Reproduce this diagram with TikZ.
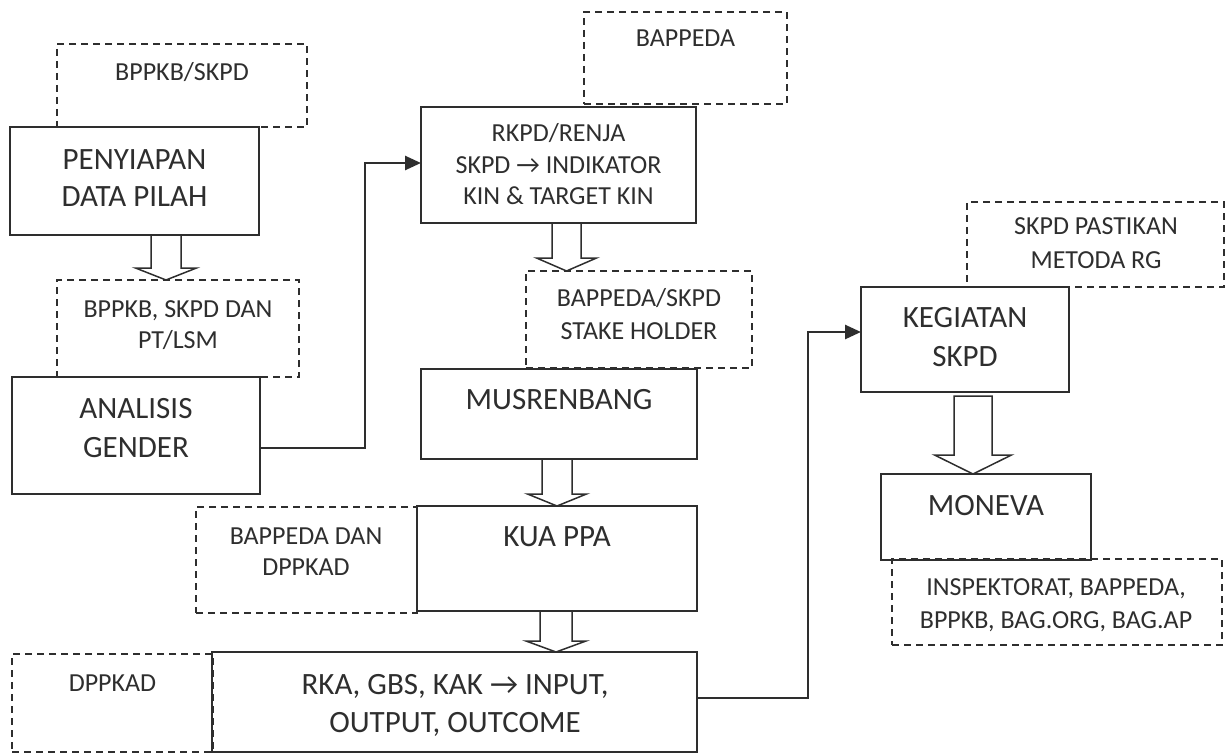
\documentclass[tikz,border=0pt]{standalone}
\usepackage{fontspec}
\setmainfont{Carlito}
\usetikzlibrary{arrows.meta,calc}
\definecolor{ink}{HTML}{2E2E2E}
\tikzset{
  box/.style={draw=ink, line width=1.6pt, inner sep=0pt, outer sep=0pt, anchor=north west},
  dbox/.style={draw=ink, line width=1.4pt, dash pattern=on 7pt off 5pt, inner sep=0pt, outer sep=0pt, anchor=north west},
  big/.style={text=ink, inner sep=0pt, align=center, anchor=base, font=\fontsize{31}{38}\selectfont},
  small/.style={text=ink, inner sep=0pt, align=center, anchor=base, font=\fontsize{26}{32}\selectfont},
  conn/.style={draw=ink, line width=2.6pt, -{Triangle[length=16pt,width=14pt]}},
  harr/.style={draw=ink, line width=1.5pt, line join=miter}
}
\newcommand\harrow[7]{%
  \draw[harr] let \p1=($(#1.south)+(#3,0)$), \p2=(#2.north) in
   (\x1-#4,\y1-#7) -- (\x1-#4,\y2+#6) -- (\x1-#5,\y2+#6) -- (\x1,\y2) --
   (\x1+#5,\y2+#6) -- (\x1+#4,\y2+#6) -- (\x1+#4,\y1-#7) -- cycle;}
\begin{document}
\begin{tikzpicture}[x=1pt,y=-1pt]
\useasboundingbox (0,0) rectangle (1226,754);
% dashed boxes
\node[dbox, minimum width=250, minimum height=83] (d1) at (57,44) {};
\node[dbox, minimum width=242, minimum height=97] (d2) at (57,280) {};
\node[dbox, minimum width=203, minimum height=92] (d3) at (584,12) {};
\node[dbox, minimum width=226, minimum height=97] (d4) at (526,271) {};
\node[dbox, minimum width=221, minimum height=106] (d5) at (196,507) {};
\node[dbox, minimum width=201, minimum height=98] (d6) at (12,654) {};
\node[dbox, minimum width=257, minimum height=85] (d7) at (967,202) {};
\node[dbox, minimum width=330, minimum height=86] (d8) at (892,559) {};
% solid boxes
\node[box, minimum width=249, minimum height=108] (pen) at (10,127) {};
\node[box, minimum width=248, minimum height=117] (ana) at (12,377) {};
\node[box, minimum width=275, minimum height=116] (rk) at (421,107) {};
\node[box, minimum width=276, minimum height=90] (mus) at (421,369) {};
\node[box, minimum width=280, minimum height=105] (kua) at (417,506) {};
\node[box, minimum width=485, minimum height=100] (rka) at (212,652) {};
\node[box, minimum width=208, minimum height=105] (keg) at (861,287) {};
\node[box, minimum width=210, minimum height=86] (mon) at (881,474) {};
% texts (anchor=base is the baseline of the last line)
\node[small] (d1T) at (182,81) {BPPKB/SKPD};
\node[big, font=\fontsize{31}{37}\selectfont] (penT) at (134.5,207) {PENYIAPAN\\DATA PILAH};
\node[small, font=\fontsize{26}{31}\selectfont] (d2T) at (178,348) {BPPKB, SKPD DAN\\PT/LSM};
\node[big, font=\fontsize{31}{39}\selectfont] (anaT) at (136,457) {ANALISIS\\GENDER};
\node[small] (d3T) at (685.5,47) {BAPPEDA};
\node[small, font=\fontsize{26}{31.5}\selectfont] (rkT) at (558.5,205) {RKPD/RENJA\\SKPD → INDIKATOR\\KIN \& TARGET KIN};
\node[small, font=\fontsize{26}{33}\selectfont] (d4T) at (639,339) {BAPPEDA/SKPD\\STAKE HOLDER};
\node[big] (musT) at (559,409) {MUSRENBANG};
\node[big] (kuaT) at (557,546) {KUA PPA};
\node[small, font=\fontsize{26}{31}\selectfont] (d5T) at (306,575) {BAPPEDA DAN\\DPPKAD};
\node[small] (d6T) at (112.5,691) {DPPKAD};
\node[big, font=\fontsize{31}{38}\selectfont] (rkaT) at (455,732) {RKA, GBS, KAK → INPUT,\\OUTPUT, OUTCOME};
\node[small, font=\fontsize{26}{33}\selectfont] (d7T) at (1096,268) {SKPD PASTIKAN\\METODA RG};
\node[big, font=\fontsize{31}{39}\selectfont] (kegT) at (965,366) {KEGIATAN\\SKPD};
\node[big] (monT) at (986,515) {MONEVA};
\node[small, font=\fontsize{26}{33}\selectfont] (d8T) at (1056,628) {INSPEKTORAT, BAPPEDA,\\BPPKB, BAG.ORG, BAG.AP};
% hollow arrows
\harrow{pen}{d2}{31.5}{15pt}{30.5pt}{12pt}{0pt}
\harrow{rk}{d4}{8}{14.5pt}{30pt}{13pt}{0pt}
\harrow{mus}{kua}{-2}{15pt}{29.5pt}{12pt}{0pt}
\harrow{kua}{rka}{-1}{16pt}{30pt}{11pt}{0pt}
\harrow{keg}{mon}{8}{19pt}{38.5pt}{19pt}{4pt}
% connectors
\draw[conn] ([yshift=-12.5pt]ana.east) -- ++(105,0) |- ([yshift=2pt]rk.west);
\draw[conn] ([yshift=4pt]rka.east) -- ++(111,0) |- ([yshift=7.5pt]keg.west);
\end{tikzpicture}
\end{document}
